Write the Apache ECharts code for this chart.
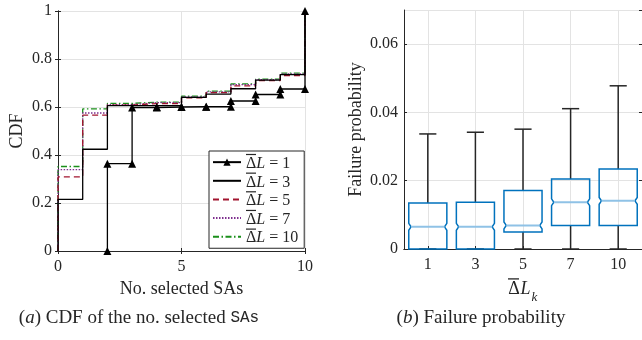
<!DOCTYPE html>
<html>
<head>
<meta charset="utf-8">
<script src="https://cdn.jsdelivr.net/npm/echarts@6/dist/echarts.min.js"></script>
<style>html,body{margin:0;padding:0;background:#fff;}#c{width:642px;height:340px;}</style>
</head>
<body>
<div id="c"></div>
<script>
// ---- data: (a) CDF of the number of selected SAs ----
const selectedSAs = [0, 1, 2, 3, 4, 5, 6, 7, 8, 9, 10];
const cdfL1  = [0, 0, 0.364, 0.598, 0.600, 0.601, 0.601, 0.625, 0.652, 0.675, 1];
const cdfL3  = [0.215, 0.424, 0.606, 0.606, 0.606, 0.640, 0.654, 0.676, 0.712, 0.735, 1];
const cdfL5  = [0.309, 0.566, 0.608, 0.614, 0.614, 0.638, 0.660, 0.688, 0.710, 0.731, 1];
const cdfL7  = [0.339, 0.575, 0.610, 0.618, 0.618, 0.642, 0.663, 0.693, 0.714, 0.738, 1];
const cdfL10 = [0.352, 0.592, 0.615, 0.620, 0.620, 0.645, 0.666, 0.696, 0.716, 0.741, 1];
const cdfNames = ['1', '3', '5', '7', '10'];

// ---- data: (b) failure probability box plots ----
const boxCategories = ['1', '3', '5', '7', '10'];
const boxMin    = [0, 0, 0, 0, 0];
const boxQ1     = [0, 0, 0.0050, 0.0069, 0.0069];
const boxMedian = [0.0065, 0.0065, 0.0069, 0.0137, 0.0141];
const boxQ3     = [0.0135, 0.0137, 0.0171, 0.0205, 0.0234];
const boxMax    = [0.0337, 0.0342, 0.0351, 0.0411, 0.0478];
const notchLow  = [0.0055, 0.0055, 0.0059, 0.0127, 0.0131];
const notchHigh = [0.0075, 0.0075, 0.0079, 0.0147, 0.0151];

const FONT = 'Liberation Serif';
const AX = '#262626';
const GRIDC = '#e3e3e3';

function stairs(vals) {
  let start = vals.findIndex(v => v > 0);
  const pts = [[selectedSAs[start], 0], [selectedSAs[start], vals[start]]];
  for (let k = start + 1; k < vals.length; k++) {
    pts.push([selectedSAs[k], vals[k - 1]]);
    pts.push([selectedSAs[k], vals[k]]);
  }
  return pts;
}
const legendName = n => 'ΔL = ' + n;

const cdfSets = [cdfL1, cdfL3, cdfL5, cdfL7, cdfL10];
const cdfStyles = [
  {color: '#000000', type: 'solid', symbol: 'triangle'},
  {color: '#000000', type: 'solid', symbol: 'none'},
  {color: '#A2142F', type: [6, 4], symbol: 'none'},
  {color: '#7E2F8E', type: [1.5, 1.5], symbol: 'none'},
  {color: '#1a8f1a', type: [6, 2.5, 1.5, 2.5], symbol: 'none'}
];
const cdfSeries = cdfSets.map((vals, i) => ({
  name: legendName(cdfNames[i]),
  type: 'line',
  xAxisIndex: 0, yAxisIndex: 0,
  data: stairs(vals),
  symbol: cdfStyles[i].symbol,
  symbolSize: 8,
  showSymbol: cdfStyles[i].symbol !== 'none',
  itemStyle: {color: cdfStyles[i].color},
  lineStyle: {color: cdfStyles[i].color, width: 1.3, type: cdfStyles[i].type},
  animation: false,
  z: 10 - i
}));

const boxData = boxCategories.map((c, i) => [i + 1, boxMin[i], boxQ1[i], boxMedian[i], boxQ3[i], boxMax[i], notchLow[i], notchHigh[i]]);

function renderBox(params, api) {
  const x = api.value(0);
  const pMin = api.coord([x, api.value(1)]);
  const yQ1 = api.coord([x, api.value(2)])[1];
  const yMed = api.coord([x, api.value(3)])[1];
  const yQ3 = api.coord([x, api.value(4)])[1];
  const yMax = api.coord([x, api.value(5)])[1];
  const yNlo = api.coord([x, api.value(6)])[1];
  const yNhi = api.coord([x, api.value(7)])[1];
  const cx = pMin[0], yMin = pMin[1];
  const band = api.size([1, 0])[0];
  const half = band * 0.4, capHalf = band * 0.18, ind = half * 0.12;
  const L = cx - half, R = cx + half;
  const wk = {stroke: AX, lineWidth: 1.5};
  return {
    type: 'group',
    children: [
      {type: 'line', shape: {x1: cx, y1: yQ3, x2: cx, y2: yMax}, style: wk},
      {type: 'line', shape: {x1: cx, y1: yMin, x2: cx, y2: yQ1}, style: wk},
      {type: 'line', shape: {x1: cx - capHalf, y1: yMax, x2: cx + capHalf, y2: yMax}, style: wk},
      {type: 'line', shape: {x1: cx - capHalf, y1: yMin, x2: cx + capHalf, y2: yMin}, style: wk},
      {type: 'polygon', shape: {points: [
        [L, yQ1], [L, yNlo], [L + ind, yMed], [L, yNhi], [L, yQ3],
        [R, yQ3], [R, yNhi], [R - ind, yMed], [R, yNlo], [R, yQ1]]},
        style: {fill: 'none', stroke: '#0072BD', lineWidth: 1.5}},
      {type: 'line', shape: {x1: L + ind, y1: yMed, x2: R - ind, y2: yMed},
        style: {stroke: '#8fc2e6', lineWidth: 2}}
    ]
  };
}

const tickLabel = {color: AX, fontFamily: FONT, fontSize: 16};
const chart = echarts.init(document.getElementById('c'), null, {renderer: 'canvas'});
chart.setOption({
  animation: false,
  backgroundColor: '#ffffff',
  grid: [
    {left: 58, top: 11, width: 247, height: 240, show: false},
    {left: 404, top: 10, width: 240, height: 239, show: false}
  ],
  legend: {
    data: cdfNames.map((n, i) => i === 0 ? {name: legendName(n)}
      : {name: legendName(n), itemStyle: {opacity: 0}}),
    orient: 'vertical',
    left: 209, top: 151,
    backgroundColor: '#ffffff',
    borderColor: AX, borderWidth: 1, borderRadius: 0,
    padding: [2, 6, 2, 3],
    itemGap: 0,
    itemWidth: 28, itemHeight: 9,
    formatter: name => {
      const n = name.split('= ')[1];
      return '{bar| }\n{d|Δ}{l|L}{t| = ' + n + '}';
    },
    textStyle: {
      color: AX, fontFamily: FONT, fontSize: 16, lineHeight: 15.3,
      rich: {
        bar: {width: 10, height: 1.2, lineHeight: 3, backgroundColor: AX, fontSize: 2},
        d: {fontFamily: FONT, fontSize: 16, lineHeight: 15.3},
        l: {fontFamily: FONT, fontSize: 16, fontStyle: 'italic', lineHeight: 15.3},
        t: {fontFamily: FONT, fontSize: 16, lineHeight: 15.3}
      }
    }
  },
  xAxis: [
    {gridIndex: 0, type: 'value', min: 0, max: 10, interval: 5,
     axisLine: {show: true, lineStyle: {color: AX}},
     axisTick: {show: true, inside: true, length: 3, lineStyle: {color: AX}},
     axisLabel: Object.assign({margin: 8}, tickLabel),
     splitLine: {show: true, lineStyle: {color: GRIDC}},
     name: 'No. selected SAs', nameLocation: 'middle', nameGap: 28,
     nameTextStyle: {color: AX, fontFamily: FONT, fontSize: 18}},
    {gridIndex: 0, type: 'value', min: 0, max: 10, interval: 5, position: 'top',
     axisLine: {show: true, lineStyle: {color: AX}},
     axisTick: {show: true, inside: true, length: 3, lineStyle: {color: AX}},
     axisLabel: {show: false}, splitLine: {show: false}},
    {gridIndex: 1, type: 'value', min: 0.5, max: 5.5,
     axisLine: {show: true, lineStyle: {color: AX}},
     axisTick: {show: true, inside: true, length: 3, lineStyle: {color: AX}},
     axisLabel: Object.assign({margin: 8, showMinLabel: false, showMaxLabel: false,
       formatter: v => (Number.isInteger(v) && boxCategories[v - 1]) ? boxCategories[v - 1] : ''}, tickLabel),
     splitLine: {show: true, lineStyle: {color: GRIDC}},
     name: '{bar| }{bs| }\n{d|Δ}{l|L}{k|k}', nameLocation: 'middle', nameGap: 24,
     nameTextStyle: {color: AX, fontFamily: FONT, fontSize: 18,
       rich: {bar: {width: 11, height: 1.3, lineHeight: 3, backgroundColor: AX, fontSize: 2},
              bs: {width: 19, height: 1.3, lineHeight: 3, fontSize: 2},
              d: {fontFamily: FONT, fontSize: 18, width: 12, lineHeight: 24, verticalAlign: 'top'},
              l: {fontFamily: FONT, fontSize: 18, fontStyle: 'italic', width: 11, lineHeight: 24, verticalAlign: 'top'},
              k: {fontFamily: FONT, fontSize: 13, fontStyle: 'italic', width: 7, lineHeight: 24, verticalAlign: 'bottom'}}}},
    {gridIndex: 1, type: 'value', min: 0.5, max: 5.5, position: 'top',
     axisLine: {show: true, lineStyle: {color: AX}},
     axisTick: {show: false}, axisLabel: {show: false}, splitLine: {show: false}}
  ],
  yAxis: [
    {gridIndex: 0, type: 'value', min: 0, max: 1, interval: 0.2,
     axisLine: {show: true, lineStyle: {color: AX}},
     axisTick: {show: true, inside: true, length: 3, lineStyle: {color: AX}},
     axisLabel: Object.assign({margin: 6}, tickLabel),
     splitLine: {show: true, lineStyle: {color: GRIDC}},
     name: 'CDF', nameLocation: 'middle', nameGap: 32,
     nameTextStyle: {color: AX, fontFamily: FONT, fontSize: 18}},
    {gridIndex: 0, type: 'value', min: 0, max: 1, interval: 0.2, position: 'right',
     axisLine: {show: true, lineStyle: {color: AX}},
     axisTick: {show: true, inside: true, length: 3, lineStyle: {color: AX}},
     axisLabel: {show: false}, splitLine: {show: false}},
    {gridIndex: 1, type: 'value', min: 0, max: 0.07, interval: 0.02,
     axisLine: {show: true, lineStyle: {color: AX}},
     axisTick: {show: true, inside: true, length: 3, lineStyle: {color: AX}},
     axisLabel: Object.assign({margin: 6, showMaxLabel: false}, tickLabel),
     splitLine: {show: true, lineStyle: {color: GRIDC}},
     name: 'Failure probability', nameLocation: 'middle', nameGap: 39,
     nameTextStyle: {color: AX, fontFamily: FONT, fontSize: 18}},
    {gridIndex: 1, type: 'value', min: 0, max: 0.07, interval: 0.02, position: 'right',
     axisLine: {show: true, lineStyle: {color: AX}},
     axisTick: {show: true, inside: true, length: 3, lineStyle: {color: AX}},
     axisLabel: {show: false}, splitLine: {show: false}}
  ],
  series: cdfSeries.concat([{
    type: 'custom',
    xAxisIndex: 2, yAxisIndex: 2,
    renderItem: renderBox,
    encode: {x: 0, y: [1, 2, 3, 4, 5]},
    data: boxData,
    z: 5
  }]),
  graphic: [
    {type: 'text', x: 139, y: 318, style: {
      text: '({i|a}) CDF of the no. selected {m|SAs}',
      align: 'center', verticalAlign: 'middle',
      fill: AX, fontFamily: FONT, fontSize: 19,
      rich: {i: {fontFamily: FONT, fontSize: 19, fontStyle: 'italic', fill: AX},
             m: {fontFamily: 'Liberation Mono', fontSize: 16, fill: AX}}}},
    {type: 'text', x: 481, y: 318, style: {
      text: '({i|b}) Failure probability',
      align: 'center', verticalAlign: 'middle',
      fill: AX, fontFamily: FONT, fontSize: 19,
      rich: {i: {fontFamily: FONT, fontSize: 19, fontStyle: 'italic', fill: AX}}}}
  ]
});
</script>
</body>
</html>
